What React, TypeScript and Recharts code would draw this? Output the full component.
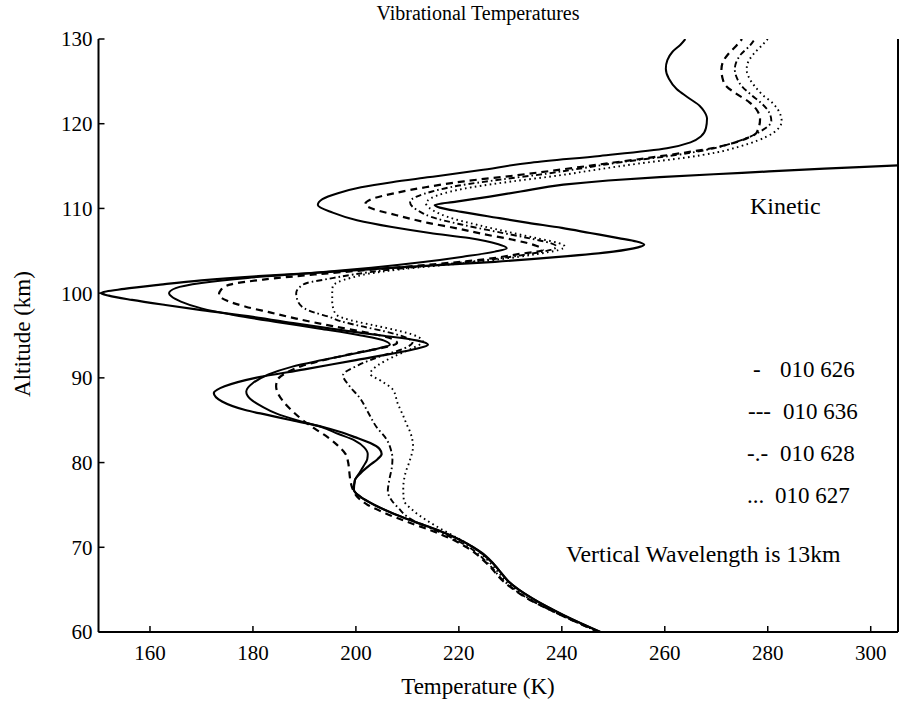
import { LineChart, Line, XAxis, YAxis } from 'recharts'

const serif = '"Liberation Serif", "Times New Roman", serif'

const tempTicks = [160, 180, 200, 220, 240, 260, 280, 300]
const altTicks = [60, 70, 80, 90, 100, 110, 120, 130]

// kinetic temperature (runs off the right edge above ~115 km)
const kineticAlt = [60, 61, 62, 63, 64, 65, 66, 67, 68, 69,
  70, 71, 72, 73, 74, 75, 76, 76.8, 77.9, 78.8,
  79.7, 80.4, 81, 81.6, 82.3, 83, 83.6, 84.2, 85, 85.6,
  86.2, 87.2, 88.2, 89, 90, 91, 92.1, 92.8, 93.4, 93.9,
  94.4, 95, 95.6, 96.4, 97.2, 98, 98.6, 99.2, 99.7, 100,
  100.5, 101, 101.5, 102, 102.5, 103.1, 103.7, 104.3, 104.9, 105.4,
  105.7, 106.1, 106.5, 107.1, 107.7, 108.3, 108.9, 109.6, 110.1, 110.4,
  110.8, 111.4, 112, 112.8, 113.3, 113.7, 114.2, 114.7, 115.1, 115.6,
  116.2]
const kineticTemp = [247.5, 243.8, 240.3, 237.1, 234.2, 231.6, 229.6, 228.2, 226.8, 225.2,
  222.8, 219.8, 216, 211.5, 207.2, 203.6, 200.8, 199.6, 199.8, 201,
  202.7, 204.2, 205, 204.6, 202.8, 199.8, 197, 193.6, 187.5, 183,
  178.5, 174, 172.4, 174.5, 180.5, 190, 200, 206.5, 211.5, 214,
  212, 205, 197.5, 188.5, 180, 170, 163, 156.5, 152, 150.5,
  155, 162, 170, 181, 195, 210, 227, 240, 250, 254.8,
  256, 254.5, 251, 245.5, 240, 233.5, 227.4, 220.5, 216.3, 215.3,
  219.5, 226, 232, 240.3, 249, 259, 275, 291, 305.6, 320,
  335]

// 010 626
const v626Alt = [60, 62, 64, 66, 68, 70, 71, 72, 73, 74,
  75, 76, 76.8, 77.9, 78.8, 79.6, 80.4, 81, 81.8, 82.6,
  83.4, 84.2, 85, 85.8, 86.6, 87.5, 88.4, 89.4, 90.4, 91.3,
  92.1, 92.9, 93.5, 93.9, 94.4, 95, 95.8, 96.6, 97.4, 98.2,
  99, 99.6, 100, 100.6, 101.2, 101.8, 102.4, 103, 103.7, 104.3,
  104.9, 105.3, 105.8, 106.5, 107.1, 107.8, 108.6, 109.5, 110.4, 111.1,
  111.8, 112.5, 113.1, 113.7, 114.5, 115.4, 116.2, 117.1, 117.8, 118.5,
  119.5, 120.6, 121.5, 122.1, 123.1, 124.1, 125.3, 126.5, 127.5, 128.5,
  129.3, 130]
const v626Temp = [247.5, 240.3, 234.2, 229.6, 226.8, 222.8, 219.8, 216, 211.5, 207.2,
  203.6, 200.8, 199.6, 199.8, 200.7, 201.5, 202.2, 202.3, 201.6, 199.8,
  196.5, 193.3, 188.5, 184.5, 181.8, 179.5, 178.7, 180, 183, 187.5,
  193.5, 200, 204.5, 206.6, 205.5, 201, 193, 184.5, 176.5, 170,
  166, 164.2, 163.7, 165, 170, 179, 192, 203, 213.5, 220.8,
  227, 229.3, 227.5, 222, 214.4, 207, 200.2, 195.5, 192.6, 193.5,
  196.5, 201, 207, 214.4, 224, 234, 247.4, 260.4, 265, 267,
  268, 268.2, 267.6, 266.8, 264.5, 262.3, 260.8, 260.2, 260.5, 261.5,
  263, 264]

// 010 636
const v636Alt = [60, 62, 64, 66, 68, 70, 71, 72, 73, 74,
  75, 76, 77, 78, 79, 80, 81, 82, 83, 84,
  85, 86, 87, 88, 89, 89.8, 90.6, 91.4, 92.2, 93,
  93.6, 94.1, 94.6, 95.3, 96.1, 97, 97.7, 98.4, 99.1, 99.8,
  100.4, 101, 101.6, 102.2, 102.8, 103.4, 104, 104.6, 105.1, 105.6,
  106.3, 107, 107.6, 108.3, 109.2, 109.9, 110.5, 111.1, 111.8, 112.5,
  113.2, 113.9, 114.6, 115.2, 115.9, 116.6, 117.2, 117.7, 118.3, 118.9,
  120.5, 121.5, 122.5, 123.5, 124.4, 125.4, 126.4, 127.3, 128.2, 129.2,
  130]
const v636Temp = [247.2, 239.8, 233.2, 228.6, 225.6, 221.5, 218.5, 214.5, 210, 205.8,
  202.3, 200.2, 199.3, 198.9, 198.7, 198.5, 198, 196.5, 194.5, 192,
  189.7, 187.8, 186.2, 185, 184.5, 184.8, 186.5, 189.5, 194.5, 200.5,
  205.5, 208, 207, 202.5, 195.5, 188.4, 183.5, 178.6, 175, 173.4,
  173.8, 175.5, 182, 192, 203.5, 215, 225, 231.5, 236.3, 235,
  230.5, 224.5, 220, 214, 207.9, 203.5, 201.8, 203, 207.5, 213.5,
  221, 231, 240, 247.4, 256, 264, 270, 273.2, 276, 277.8,
  278.5, 278, 276.5, 274, 272, 271.2, 271, 271.3, 272.3, 273.9,
  275]

// 010 628
const v628Alt = [60, 62, 64, 66, 68, 70, 71, 72, 72.8, 73.6,
  74.6, 75.5, 76.6, 78, 79.5, 80.5, 81.5, 82.7, 84.2, 86,
  87.6, 89, 90.3, 91.5, 92.7, 93.5, 94.2, 94.8, 95.5, 96.1,
  96.7, 97.2, 97.7, 98.2, 99.1, 100, 100.6, 101.2, 101.7, 102.2,
  102.8, 103.4, 104, 104.6, 105.1, 105.5, 105.9, 106.5, 107.25, 108.1,
  109, 109.6, 110.2, 110.8, 111.4, 112, 112.7, 113.4, 114.1, 114.8,
  115.5, 116.2, 116.9, 117.5, 118.2, 119, 120.3, 121.3, 122.4, 123.4,
  124.4, 125.4, 126.4, 127.3, 128.2, 129.2, 130]
const v628Temp = [247.2, 239.8, 233.3, 228.8, 225.8, 222, 219, 215.5, 212.3, 210,
  208.3, 207, 206.2, 206.5, 207, 207.1, 206.8, 206, 204, 202.3,
  200.8, 198.8, 197.5, 200.5, 205.5, 209.5, 211, 209.5, 205.5, 201,
  197, 194.8, 192, 190, 188.7, 188.4, 188.9, 190.5, 194.8, 199.5,
  207, 217, 226.5, 233.5, 237.8, 239, 237.8, 233.5, 227.3, 220.5,
  214.6, 212.5, 211, 210.5, 211.8, 214.8, 220, 228, 237, 244.5,
  252, 261, 268, 272, 275.5, 278.3, 280.7, 280.3, 278.8, 276.8,
  275, 274, 273.6, 273.9, 274.8, 276.5, 277.5]

// 010 627
const v627Alt = [60, 62, 64, 66, 68, 70, 71, 72, 72.6, 73.2,
  74.4, 75.6, 77, 78.7, 80.3, 81.9, 83.5, 84.6, 85.5, 87,
  88.6, 89.5, 90.5, 91.5, 92.5, 93.5, 94.3, 95, 95.6, 96.2,
  96.8, 97.4, 98.2, 99, 100, 100.8, 101.3, 101.8, 102.3, 102.8,
  103.4, 104, 104.6, 105.1, 105.5, 105.9, 106.5, 107.1, 108, 109,
  109.6, 110.1, 110.6, 111.2, 111.8, 112.5, 113.2, 113.9, 114.6, 115.3,
  116, 116.6, 117.3, 118, 118.9, 120.3, 121.3, 122.4, 123.4, 124.4,
  125.4, 126.4, 127.3, 128.2, 129.2, 130]
const v627Temp = [247.4, 240, 233.5, 229.2, 226.3, 222.8, 220, 217, 215.3, 213.7,
  211, 209.3, 209.2, 209.6, 210.5, 211.1, 210.6, 209.8, 209.2, 208.1,
  207.2, 205.3, 202.8, 204.3, 207.3, 211, 213, 211.5, 208, 203.5,
  199, 196.3, 195.6, 195.4, 195.4, 195.5, 196.5, 199, 202.5, 208.5,
  218.5, 228, 235, 239.4, 240.6, 239.4, 235, 230.5, 224, 217.8,
  215.5, 214.2, 213.6, 214.6, 217.2, 222.5, 230.5, 239.5, 247, 255,
  264, 270, 274.5, 278, 281, 282.7, 282.3, 281, 279, 277.5,
  276.4, 275.9, 276.2, 277.2, 278.8, 280]

const profile = (alt: number[], temp: number[]) => alt.map((a, i) => ({ alt: a, temp: temp[i] }))

const series = [
  { key: 'kinetic', data: profile(kineticAlt, kineticTemp), dash: undefined, width: 2.2 },
  { key: '626', data: profile(v626Alt, v626Temp), dash: undefined, width: 2 },
  { key: '636', data: profile(v636Alt, v636Temp), dash: '7 5', width: 2.2 },
  { key: '628', data: profile(v628Alt, v628Temp), dash: '6 3 1.6 3', width: 1.9 },
  { key: '627', data: profile(v627Alt, v627Temp), dash: '1.6 3.4', width: 1.9 },
]

const xDomain: [number, number] = [150, 305.3]
const yDomain: [number, number] = [60, 130]

const tickStyle = { fill: '#000', fontSize: 21, fontFamily: serif }
const axisStroke = { stroke: '#000', strokeWidth: 2 }
const tickStroke = { stroke: '#000', strokeWidth: 1.5 }

export default function App() {
  return (
    <div style={{ position: 'absolute', left: 0, top: 0, width: 900, height: 719, background: '#fff', fontFamily: serif }}>
      <LineChart layout="vertical" width={900} height={719} margin={{ top: 39, right: 0, bottom: 0, left: 0 }}>
        <XAxis xAxisId="b" orientation="bottom" type="number" dataKey="temp" domain={xDomain} allowDataOverflow
          ticks={tempTicks} height={87} tickSize={-6} tickMargin={19} tick={tickStyle}
          axisLine={axisStroke} tickLine={tickStroke} />
        <XAxis xAxisId="t" orientation="top" type="number" domain={xDomain} allowDataOverflow
          ticks={tempTicks} height={0} tickSize={-6} tick={false}
          axisLine={axisStroke} tickLine={tickStroke} />
        <YAxis yAxisId="l" orientation="left" type="number" dataKey="alt" domain={yDomain} allowDataOverflow reversed
          ticks={altTicks} width={98.5} tickSize={-6} tickMargin={12} tick={tickStyle}
          axisLine={axisStroke} tickLine={tickStroke} />
        <YAxis yAxisId="r" orientation="right" type="number" domain={yDomain} allowDataOverflow reversed
          ticks={altTicks} width={2} tickSize={-6} tick={false}
          axisLine={axisStroke} tickLine={tickStroke} />
        {series.map(s => (
          <Line key={s.key} xAxisId="b" yAxisId="l" data={s.data} dataKey="temp" type="monotone"
            stroke="#000" strokeWidth={s.width} strokeDasharray={s.dash} dot={false}
            activeDot={false} isAnimationActive={false} />
        ))}
      </LineChart>
      <svg width={900} height={719} style={{ position: 'absolute', left: 0, top: 0, pointerEvents: 'none' }}
        fontFamily={serif} fill="#000">
        <text x={478} y={20} fontSize={20} textAnchor="middle">Vibrational Temperatures</text>
        <text x={478} y={694} fontSize={23} textAnchor="middle">Temperature (K)</text>
        <text transform="translate(30,334) rotate(-90)" fontSize={23} textAnchor="middle">Altitude (km)</text>
        <text x={750} y={214} fontSize={24}>Kinetic</text>
        <text x={753} y={377} fontSize={23}>-</text>
        <text x={780} y={377} fontSize={23}>010 626</text>
        <text x={748} y={419} fontSize={23}>---</text>
        <text x={783} y={419} fontSize={23}>010 636</text>
        <text x={747} y={461} fontSize={23}>-.-</text>
        <text x={780} y={461} fontSize={23}>010 628</text>
        <text x={747} y={503} fontSize={23}>...</text>
        <text x={775} y={503} fontSize={23}>010 627</text>
        <text x={566} y={562} fontSize={23.8}>Vertical Wavelength is 13km</text>
      </svg>
    </div>
  )
}
